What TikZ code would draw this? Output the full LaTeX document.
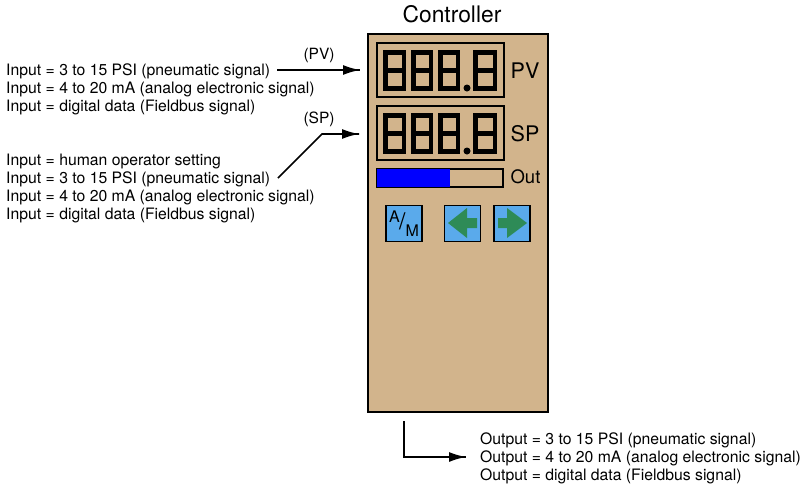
\documentclass[tikz,border=0pt]{standalone}
\usepackage{fontspec}
\setmainfont{TeX Gyre Heros}
\usetikzlibrary{arrows.meta}
\usetikzlibrary{decorations.markings}
\tikzset{sigarrow/.style = {decoration={markings,
                                  mark=at position 1 with {\arrow{Latex[length=17pt,width=10pt]}}},
                      postaction={decorate}}}
\tikzset{sigline/.style = {line width=1.6pt}}
\tikzset{panel/.style = {draw, line width=1.6pt, fill=ctan, inner sep=0, minimum width=180, minimum height=378}}
\tikzset{window/.style = {draw, line width=1.4pt, inner sep=0, minimum width=127, minimum height=54}}
\tikzset{button/.style = {draw, line width=1.6pt, fill=mblue, inner sep=0, minimum size=36}}
\tikzset{seg/.style = {line width=4.6pt}}
\tikzset{notes/.style = {align=left, inner sep=0, font=\fontsize{15.75}{18}\selectfont}}
\definecolor{ctan}{RGB}{210, 180, 140}
\definecolor{mblue}{RGB}{90, 170, 235}
\definecolor{mgreen}{RGB}{46, 139, 87}
\newcommand{\sevenseg}[3]{% left, right, top
  \draw [seg] (#1, #3) rectangle (#2, #3+36.5);
  \draw [seg] (#1, #3+18.25) -- (#2, #3+18.25);
}
\begin{document}
\begin{tikzpicture}[x=1pt, y=-1pt]
      \useasboundingbox (0, 0) rectangle (812, 490);

      \node [panel] (ctrl) at (458, 223) {};
      \node [font=\fontsize{22.8}{26}\selectfont] (ctrltitle) at (452, 14) {Controller};

      \node [window] (pvwin) at (440.5, 70) {};
      \node [window] (spwin) at (440.5, 133) {};
      \node [font=\fontsize{21.5}{24}\selectfont] (pvlabel) at (525, 71) {PV};
      \node [font=\fontsize{21.5}{24}\selectfont] (splabel) at (525, 134) {SP};

      \foreach \y in {52.25, 115.25} {
        \sevenseg{385.2}{403.8}{\y}
        \sevenseg{413.2}{430.8}{\y}
        \sevenseg{440.2}{457.8}{\y}
        \sevenseg{475.2}{494.8}{\y}
        \fill (467, \y+35.75) circle (3.5);
      }

      % bar graph
      \node [draw, line width=1.4pt, inner sep=0, minimum width=126, minimum height=18] (outbar) at (440, 178) {};
      \fill [blue] (377, 169) rectangle (450, 187);
      \node [font=\fontsize{18.5}{20}\selectfont] (outlabel) at (525.5, 177) {Out};

      % front panel keys
      \node [button] (ambtn) at (404, 223.5) {\fontsize{16}{16}\selectfont\raisebox{7pt}{A}\kern-0.5pt{\fontsize{23}{23}\selectfont /}\raisebox{-7pt}{M}};
      \node [button] (leftbtn) at (462.5, 223.5) {};
      \node [button] (rightbtn) at (512, 223.5) {};
      \fill [mgreen] (448, 223) -- (467, 208) -- (467, 218) -- (477, 218) -- (477, 228) -- (467, 228) -- (467, 238) -- cycle;
      \fill [mgreen] (527, 223) -- (507, 208) -- (507, 218) -- (498, 218) -- (498, 228) -- (507, 228) -- (507, 238) -- cycle;

      % signal lists
      \node [notes, anchor=north west] (pvnotes) at (6, 64) {Input = 3 to 15 PSI (pneumatic signal)\\
        Input = 4 to 20 mA (analog electronic signal)\\
        Input = digital data (Fieldbus signal)};
      \node [notes, anchor=north west] (spnotes) at (6, 154) {Input = human operator setting\\
        Input = 3 to 15 PSI (pneumatic signal)\\
        Input = 4 to 20 mA (analog electronic signal)\\
        Input = digital data (Fieldbus signal)};
      \node [notes, anchor=north west] (outnotes) at (480, 433) {Output = 3 to 15 PSI (pneumatic signal)\\
        Output = 4 to 20 mA (analog electronic signal)\\
        Output = digital data (Fieldbus signal)};

      \coordinate (pvfrom) at (277, 70);
      \coordinate (pvto) at (360, 70);
      \coordinate (spfrom) at (278, 178);
      \coordinate (spbend) at (322, 134);
      \coordinate (spto) at (359, 134);
      \coordinate (outfrom) at (404, 421);
      \coordinate (outbend) at (404, 457);
      \coordinate (outto) at (466, 457);

      \draw [sigline, sigarrow] (pvfrom) -- (pvto);
      \draw [sigline, sigarrow] (spfrom) -- (spbend) -- (spto);
      \draw [sigline, sigarrow] (outfrom) -- (outbend) -- (outto);

      \node [font=\fontsize{15.5}{18}\selectfont] (pvtag) at (319, 55) {(PV)};
      \node [font=\fontsize{15.5}{18}\selectfont] (sptag) at (319, 119) {(SP)};
    \end{tikzpicture}
\end{document}
